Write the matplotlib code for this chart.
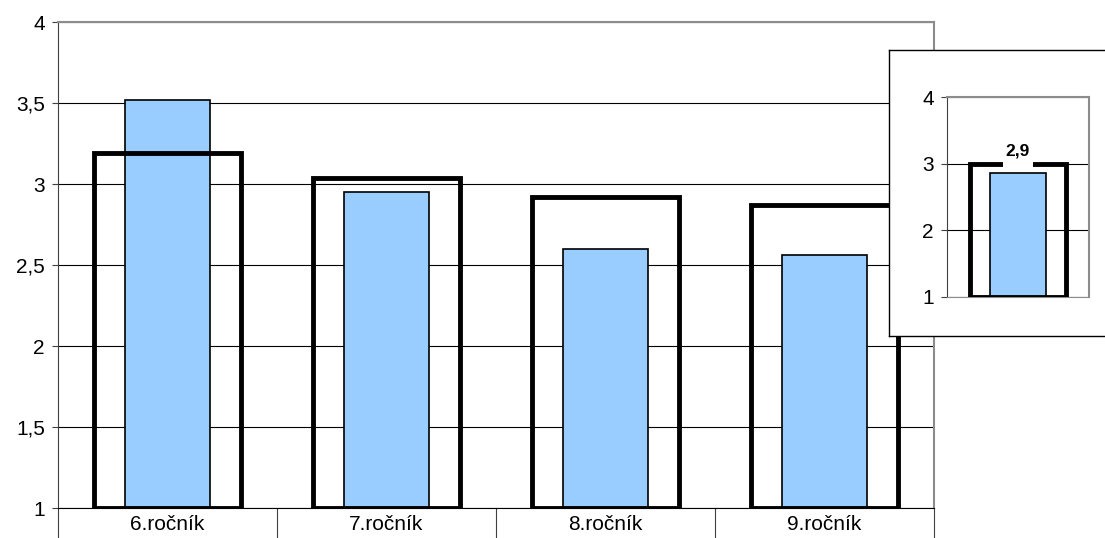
import matplotlib
matplotlib.use("Agg")
import matplotlib.pyplot as plt
from matplotlib.patches import Rectangle
from matplotlib.ticker import FuncFormatter

plt.rcParams['font.family'] = ['Liberation Sans', 'DejaVu Sans']

categories = ["6.ročník", "7.ročník", "8.ročník", "9.ročník"]
school_avg = [3.52, 2.95, 2.60, 2.56]     # blue bars
overall_avg = [3.19, 3.04, 2.92, 2.87]    # black outline bars
inset_school = 2.86
inset_overall = 3.0
inset_label = "2,9"

W, H = 1105, 538
fig = plt.figure(figsize=(W / 100, H / 100), dpi=100)
blue = "#99CCFF"
grey = "#8c8c8c"


def comma(v, pos):
    s = f"{v:g}"
    return s.replace(".", ",")


def style_axes(ax):
    ax.yaxis.set_major_formatter(FuncFormatter(comma))
    ax.grid(axis="y", color="black", lw=0.8, zorder=0)
    ax.set_axisbelow(True)
    for side in ("top", "right"):
        ax.spines[side].set_color(grey)
        ax.spines[side].set_linewidth(1.5)
    ax.spines["left"].set_color("#404040")
    ax.spines["bottom"].set_color("black")
    ax.tick_params(axis="y", length=4.5, width=0.8, color="#404040", labelsize=15, pad=5)


# main chart
ax = fig.add_axes([58 / W, (H - 508) / H, (934 - 58) / W, (508 - 22) / H])
x = list(range(len(categories)))
ax.bar(x, [v - 1 for v in school_avg], bottom=1, width=0.39, color=blue,
       edgecolor="black", linewidth=1.2, zorder=2)
ax.bar(x, [v - 1 for v in overall_avg], bottom=1, width=0.67, fill=False,
       edgecolor="black", linewidth=3.5, zorder=3)
ax.set_xlim(-0.5, len(categories) - 0.5)
ax.set_ylim(1, 4)
ax.set_yticks([1, 1.5, 2, 2.5, 3, 3.5, 4])
style_axes(ax)
ax.set_xticks(x)
ax.set_xticklabels(categories)
ax.tick_params(axis="x", length=0, labelsize=15, pad=5)
# category table separators
trans = ax.get_xaxis_transform()
bounds = [i - 0.5 for i in range(len(categories) + 1)]
ax.vlines(bounds, -30 / 486, 0, transform=trans, colors="#404040", lw=0.8, clip_on=False)

# inset legend box
box = fig.add_axes([889 / W, (H - 336) / H, (W - 889 + 5) / W, (336 - 50) / H], zorder=5)
box.set_xticks([])
box.set_yticks([])
for s in box.spines.values():
    s.set_color("black")
    s.set_linewidth(1.0)

ins = fig.add_axes([947 / W, (H - 297) / H, (1089 - 947) / W, (297 - 97) / H], zorder=6)
ins.patch.set_alpha(0)
ins.bar([0], [inset_school - 1], bottom=1, width=0.40, color=blue,
        edgecolor="black", linewidth=1.2, zorder=2)
ins.bar([0], [inset_overall - 1], bottom=1, width=0.68, fill=False,
        edgecolor="black", linewidth=3.5, zorder=3)
ins.set_xlim(-0.5, 0.5)
ins.set_ylim(1, 4)
ins.set_yticks([1, 2, 3, 4])
style_axes(ins)
ins.set_xticks([])
ins.spines["bottom"].set_color(grey)
# white gap in the outline under the label
ins.add_patch(Rectangle((-0.105, inset_overall - 0.06), 0.21, 0.2, facecolor="white",
                        edgecolor="none", zorder=4))
ins.annotate(inset_label, xy=(0, inset_overall), xytext=(0, 6), textcoords="offset points",
             ha="center", va="baseline", fontsize=12.5, fontweight="bold", zorder=5)

fig.savefig("out.png", dpi=100)
